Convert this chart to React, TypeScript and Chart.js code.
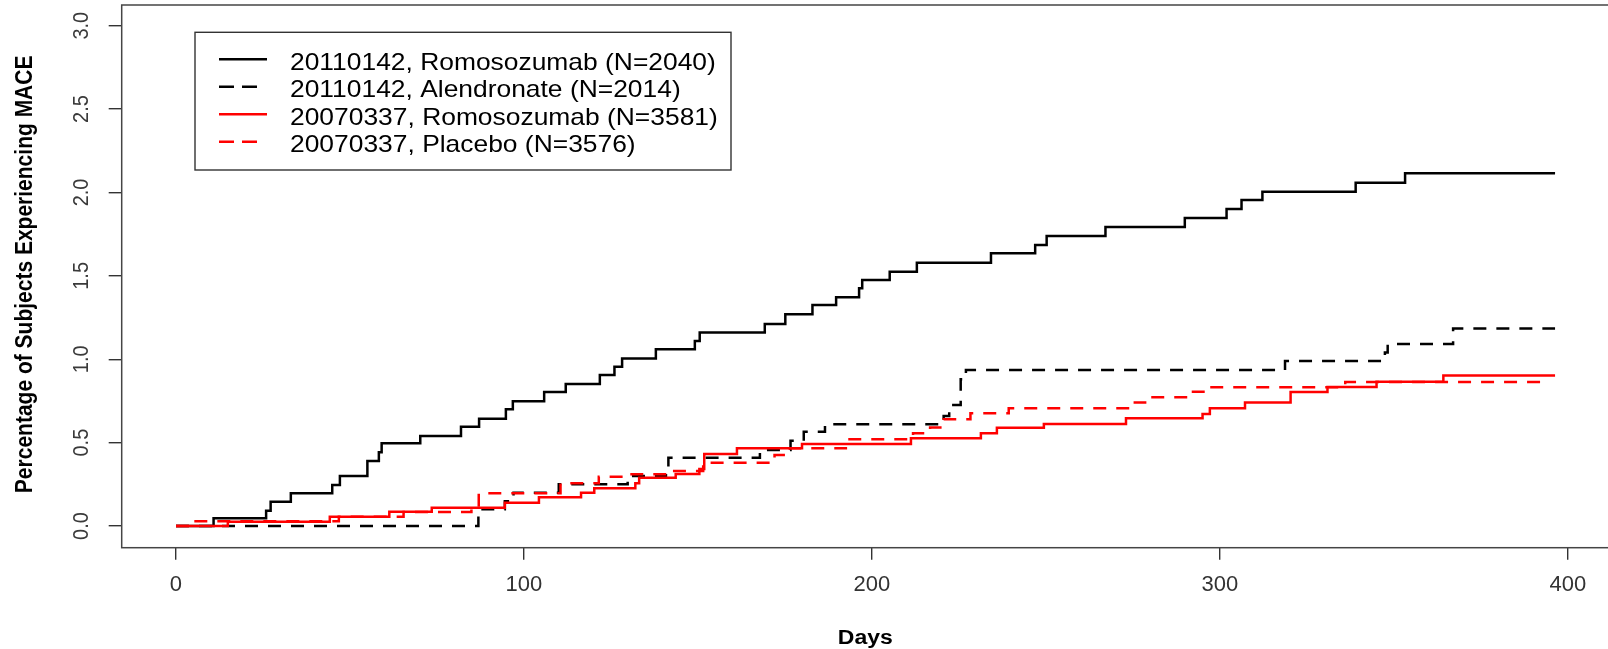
import React, { useEffect, useRef } from 'react';
import { Chart, registerables } from 'chart.js';
Chart.register(...registerables);

// ---------- data ----------
const romo142Days = [0, 10.8, 25.9, 27.2, 33, 44.9, 47.1, 55, 58.3, 59.1, 70.2, 81.9, 87.1, 94.8, 96.8, 105.8, 112, 121.8, 126, 128.2, 137.9, 149.1, 150.5, 169.2, 175.1, 182.9, 189.7, 196.3, 197.2, 205.1, 212.9, 234.2, 246.9, 250.2, 267.1, 289.9, 301.9, 306.2, 312.2, 339, 353.2, 396.3];
const romo142Pct = [0, 0.046, 0.092, 0.146, 0.196, 0.246, 0.3, 0.39, 0.442, 0.496, 0.54, 0.595, 0.643, 0.7, 0.748, 0.803, 0.851, 0.905, 0.955, 1.005, 1.06, 1.11, 1.16, 1.211, 1.27, 1.325, 1.371, 1.425, 1.475, 1.525, 1.579, 1.635, 1.685, 1.739, 1.793, 1.847, 1.901, 1.955, 2.004, 2.058, 2.115, 2.115];

const alen142Days = [0, 86.9, 94.5, 97, 110, 129.8, 140.8, 141.5, 167.8, 176.6, 180.4, 186.5, 220.6, 222.2, 225.5, 227, 318.7, 347.4, 348.2, 367, 396.3];
const alen142Pct = [0, 0.1, 0.149, 0.199, 0.25, 0.3, 0.35, 0.41, 0.456, 0.511, 0.565, 0.61, 0.66, 0.725, 0.88, 0.935, 0.989, 1.04, 1.091, 1.185, 1.185];

const romo337Days = [0, 14.9, 44.2, 61.3, 73.5, 94.5, 104.3, 116.4, 120.2, 132, 133.1, 143.6, 150.4, 151.8, 161.2, 179.9, 211.2, 231.3, 235.9, 249.4, 273, 295, 297.1, 307.2, 320.3, 330.9, 345, 364.2, 396.3];
const romo337Pct = [0, 0.026, 0.056, 0.086, 0.11, 0.14, 0.172, 0.2, 0.226, 0.256, 0.29, 0.312, 0.342, 0.432, 0.466, 0.492, 0.526, 0.556, 0.589, 0.612, 0.646, 0.672, 0.706, 0.74, 0.803, 0.833, 0.865, 0.903, 0.903];

const plac337Days = [0, 5, 46.8, 65.4, 84.9, 87, 110.5, 121.5, 129, 141.5, 151.5, 172, 175.5, 192.5, 211.8, 216.7, 220.6, 228.3, 239.3, 274.2, 278.5, 290.9, 295.7, 336, 392.8];
const plac337Pct = [0, 0.028, 0.056, 0.084, 0.112, 0.196, 0.256, 0.296, 0.31, 0.33, 0.38, 0.426, 0.466, 0.52, 0.556, 0.59, 0.64, 0.676, 0.706, 0.74, 0.772, 0.805, 0.832, 0.863, 0.863];

const seriesLabels = [
  '20110142, Romosozumab (N=2040)',
  '20110142, Alendronate (N=2014)',
  '20070337, Romosozumab (N=3581)',
  '20070337, Placebo (N=3576)',
];
const xTicks = [0, 100, 200, 300, 400];
const yTicks = [0, 0.5, 1, 1.5, 2, 2.5, 3];
const yTickLabels = ['0.0', '0.5', '1.0', '1.5', '2.0', '2.5', '3.0'];
const xTitle = 'Days';
const yTitle = 'Percentage of Subjects Experiencing MACE';

// ---------- styles ----------
const FONT = '"Liberation Sans", Arial, Helvetica, sans-serif';
const seriesColors = ['#000000', '#000000', '#ff0000', '#ff0000'];
const seriesDashed = [false, true, false, true];
const LINE_W = 2.5;
const DASH = [13, 10];
const CANVAS_W = 1620;
const CANVAS_H = 649;

const toPts = (d: number[], v: number[]) => d.map((x, i) => ({ x, y: v[i] }));

const decorPlugin = {
  id: 'rDecor',
  afterDraw(chart: any) {
    const ctx = chart.ctx as CanvasRenderingContext2D;
    const ca = chart.chartArea;
    const ys = chart.scales.y;
    ctx.save();
    // box
    ctx.strokeStyle = '#454545';
    ctx.lineWidth = 1.5;
    ctx.setLineDash([]);
    ctx.strokeRect(ca.left, ca.top, ca.right - ca.left, ca.bottom - ca.top);

    // y tick labels (rotated, R style)
    ctx.fillStyle = '#3a3a3a';
    ctx.font = `20px ${FONT}`;
    ctx.textAlign = 'center';
    ctx.textBaseline = 'alphabetic';
    yTicks.forEach((v, i) => {
      const py = ys.getPixelForValue(v);
      ctx.save();
      ctx.translate(80, py);
      ctx.scale(1.12, 1);
      ctx.rotate(-Math.PI / 2);
      ctx.fillText(yTickLabels[i], 0, 7.2);
      ctx.restore();
    });

    // y title
    ctx.fillStyle = '#000';
    ctx.font = `bold 21px ${FONT}`;
    ctx.save();
    ctx.translate(32, (ca.top + ca.bottom) / 2 - 2);
    ctx.scale(1.1, 1);
    ctx.rotate(-Math.PI / 2);
    ctx.fillText(yTitle, 0, 0);
    ctx.restore();

    // x title
    ctx.font = `bold 20px ${FONT}`;
    ctx.save();
    ctx.translate((ca.left + ca.right) / 2, 644);
    ctx.scale(1.15, 1);
    ctx.fillText(xTitle, 0, 0);
    ctx.restore();

    // legend
    const L = { left: 195, top: 32.3, right: 731, bottom: 170 };
    ctx.fillStyle = '#fff';
    ctx.fillRect(L.left, L.top, L.right - L.left, L.bottom - L.top);
    ctx.strokeStyle = '#333';
    ctx.lineWidth = 1.4;
    ctx.strokeRect(L.left, L.top, L.right - L.left, L.bottom - L.top);
    seriesLabels.forEach((lab, i) => {
      const y = 59.3 + i * 27.5;
      ctx.strokeStyle = seriesColors[i];
      ctx.lineWidth = LINE_W;
      ctx.setLineDash(seriesDashed[i] ? [15, 8] : []);
      ctx.beginPath();
      ctx.moveTo(219, y);
      ctx.lineTo(seriesDashed[i] ? 257 : 267, y);
      ctx.stroke();
      ctx.setLineDash([]);
      ctx.fillStyle = '#000';
      ctx.font = `24px ${FONT}`;
      ctx.textAlign = 'left';
      ctx.save();
      ctx.translate(290, y + 10.5);
      ctx.scale(1.1, 1);
      ctx.fillText(lab, 0, 0);
      ctx.restore();
    });
    ctx.restore();
  },
};

export default function App() {
  const ref = useRef<HTMLCanvasElement | null>(null);
  useEffect(() => {
    if (!ref.current) return;
    const all = [
      toPts(romo142Days, romo142Pct),
      toPts(alen142Days, alen142Pct),
      toPts(romo337Days, romo337Pct),
      toPts(plac337Days, plac337Pct),
    ];
    const chart = new Chart(ref.current, {
      type: 'line',
      data: {
        datasets: all.map((pts, i) => ({
          label: seriesLabels[i],
          data: pts,
          borderColor: seriesColors[i],
          backgroundColor: seriesColors[i],
          borderWidth: LINE_W,
          borderDash: seriesDashed[i] ? DASH : [],
          stepped: 'before' as const,
          pointRadius: 0,
          fill: false,
          order: 3 - i,
        })),
      },
      options: {
        responsive: false,
        animation: false,
        devicePixelRatio: 1,
        layout: { padding: { left: 0, top: 5, right: CANVAS_W - 1609, bottom: 0 } },
        plugins: { legend: { display: false }, tooltip: { enabled: false } },
        scales: {
          x: {
            type: 'linear',
            min: -15.6,
            max: 411.8,
            afterFit: (s: any) => { s.height = 101.3; },
            afterBuildTicks: (s: any) => { s.ticks = xTicks.map((v) => ({ value: v })); },
            grid: { drawOnChartArea: false, drawTicks: true, tickLength: 12, color: '#333', lineWidth: 1.4 },
            border: { display: false },
            ticks: { font: { size: 22, family: FONT }, color: '#333', padding: 12, maxRotation: 0, autoSkip: false },
          },
          y: {
            type: 'linear',
            min: -0.13,
            max: 3.124,
            afterFit: (s: any) => { s.width = 121.7; },
            afterBuildTicks: (s: any) => { s.ticks = yTicks.map((v) => ({ value: v })); },
            grid: { drawOnChartArea: false, drawTicks: true, tickLength: 13, color: '#333', lineWidth: 1.4 },
            border: { display: false },
            ticks: { display: false },
          },
        },
      },
      plugins: [decorPlugin],
    });
    return () => chart.destroy();
  }, []);
  return (
    <div style={{ position: 'fixed', left: 0, top: 0, width: 1608, height: 649, overflow: 'hidden', background: '#fff' }}>
      <canvas ref={ref} width={CANVAS_W} height={CANVAS_H} style={{ display: 'block' }} />
    </div>
  );
}
